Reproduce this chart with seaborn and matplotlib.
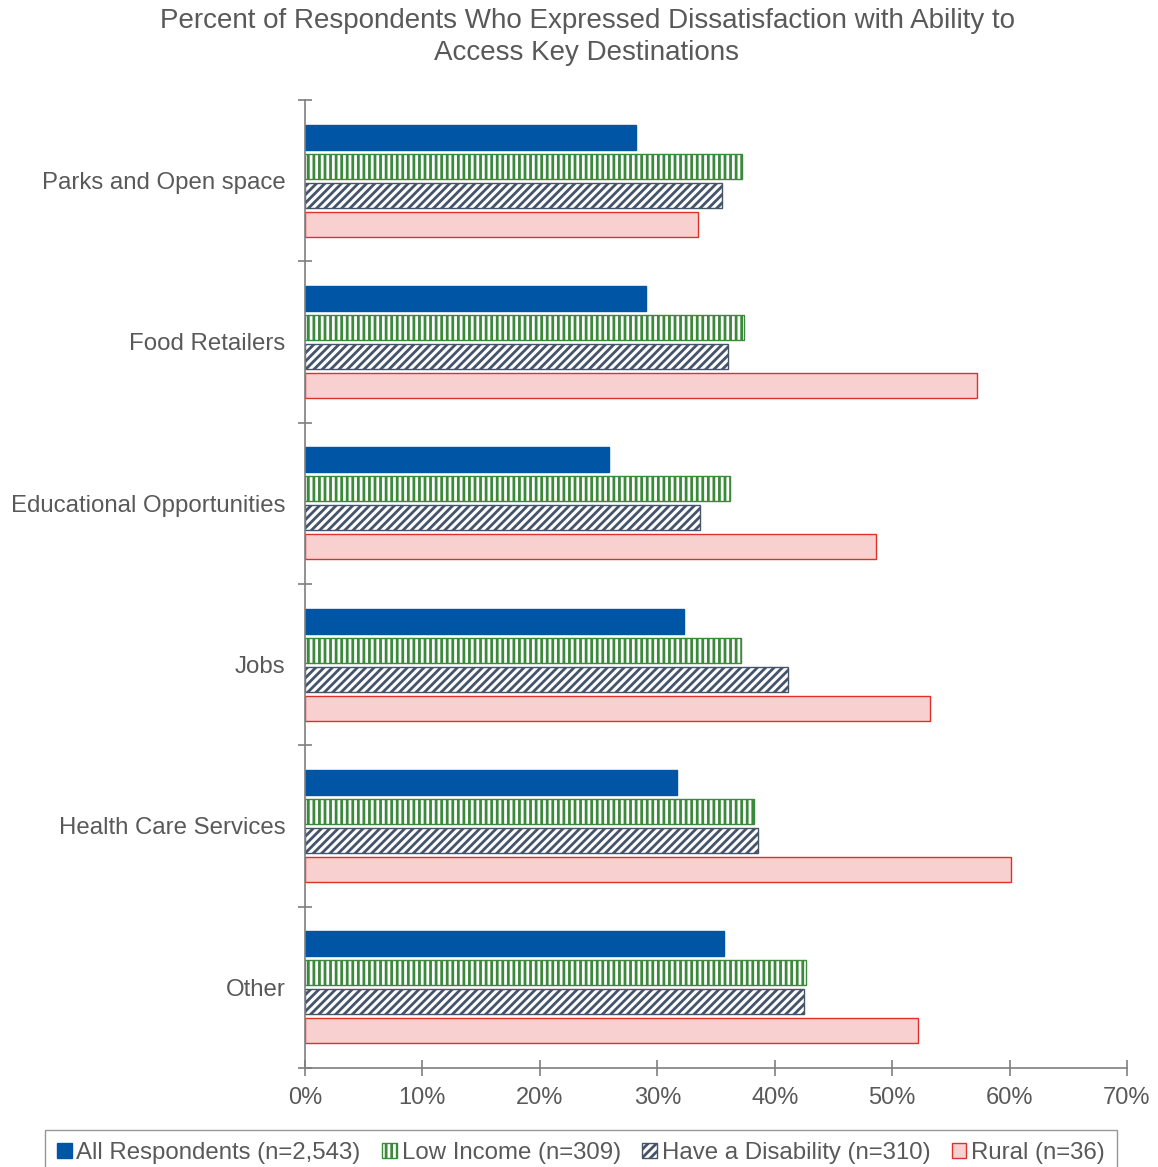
import matplotlib
matplotlib.use('Agg')
import matplotlib.pyplot as plt
import matplotlib.patches as mpatches
import seaborn as sns
import pandas as pd
import numpy as np

categories = ['Parks and Open space', 'Food Retailers', 'Educational Opportunities',
              'Jobs', 'Health Care Services', 'Other']
groups = ['All Respondents (n=2,543)', 'Low Income (n=309)',
          'Have a Disability (n=310)', 'Rural (n=36)']
all_resp = [28.2, 29.0, 25.9, 32.3, 31.7, 35.7]
low_income = [37.2, 37.4, 36.2, 37.1, 38.2, 42.7]
disability = [35.5, 36.0, 33.6, 41.1, 38.6, 42.5]
rural = [33.5, 57.2, 48.6, 53.2, 60.1, 52.2]

rows = []
for g, vals in zip(groups, [all_resp, low_income, disability, rural]):
    for c, v in zip(categories, vals):
        rows.append({'category': c, 'group': g, 'value': v})
df = pd.DataFrame(rows)

sns.set_style('white')
plt.rcParams['font.family'] = ['Liberation Sans', 'DejaVu Sans']
plt.rcParams['hatch.linewidth'] = 2.0
text_col = '#595959'

face = ['#0055A5', 'white', 'white', '#F8D0CF']
edge = ['#0055A5', '#3B8A3B', '#44546A', '#E0302A']
hatch = [None, '|||', '////', None]

fig = plt.figure(figsize=(11.58, 11.67), dpi=100)
ax = fig.add_axes([305 / 1158, 1 - 1068 / 1167, 822 / 1158, 968 / 1167])

sns.barplot(data=df, y='category', x='value', hue='group', orient='h',
            order=categories, hue_order=groups, width=0.72, gap=0.14,
            errorbar=None, ax=ax, legend=False)

for i, cont in enumerate(ax.containers):
    for bar in cont:
        bar.set_facecolor(face[i])
        bar.set_edgecolor(edge[i])
        bar.set_linewidth(1.0)
        if hatch[i]:
            bar.set_hatch(hatch[i])

ax.set_xlim(0, 70)
ax.set_ylim(5.5, -0.5)
ax.set_xticks(np.arange(0, 71, 10))
ax.set_xticklabels([f'{t}%' for t in range(0, 71, 10)], fontsize=17, color=text_col)
ax.set_yticks(range(len(categories)))
ax.set_yticklabels(categories, fontsize=17.3, color=text_col)
ax.set_yticks(np.arange(-0.5, 6.0, 1.0), minor=True)
ax.tick_params(axis='both', which='both', left=True, bottom=True)
ax.tick_params(axis='y', which='major', length=0, pad=14)
ax.tick_params(axis='y', which='minor', length=10, direction='inout', color='#7f7f7f', width=1.2)
ax.tick_params(axis='x', which='major', length=12, direction='inout', color='#7f7f7f', width=1.2, pad=8)
ax.set_xlabel('')
ax.set_ylabel('')
for s in ['top', 'right']:
    ax.spines[s].set_visible(False)
for s in ['left', 'bottom']:
    ax.spines[s].set_color('#7f7f7f')
    ax.spines[s].set_linewidth(1.2)

fig.suptitle('Percent of Respondents Who Expressed Dissatisfaction with Ability to\nAccess Key Destinations',
             y=0.993, x=587 / 1158, fontsize=20, color=text_col, linespacing=1.3)

handles = [mpatches.Patch(facecolor=face[i], edgecolor=edge[i], hatch=hatch[i], label=groups[i])
           for i in range(4)]
leg = fig.legend(handles=handles, loc='upper center', bbox_to_anchor=(581 / 1158, 1 - 1118 / 1167),
                 ncol=4, fontsize=17.3, frameon=True, fancybox=False, handlelength=0.6,
                 handleheight=0.6, handletextpad=0.2, columnspacing=0.9, borderpad=0.5)
leg.get_frame().set_edgecolor('#7f7f7f')
for t in leg.get_texts():
    t.set_color(text_col)

fig.savefig('out.png', dpi=100)
